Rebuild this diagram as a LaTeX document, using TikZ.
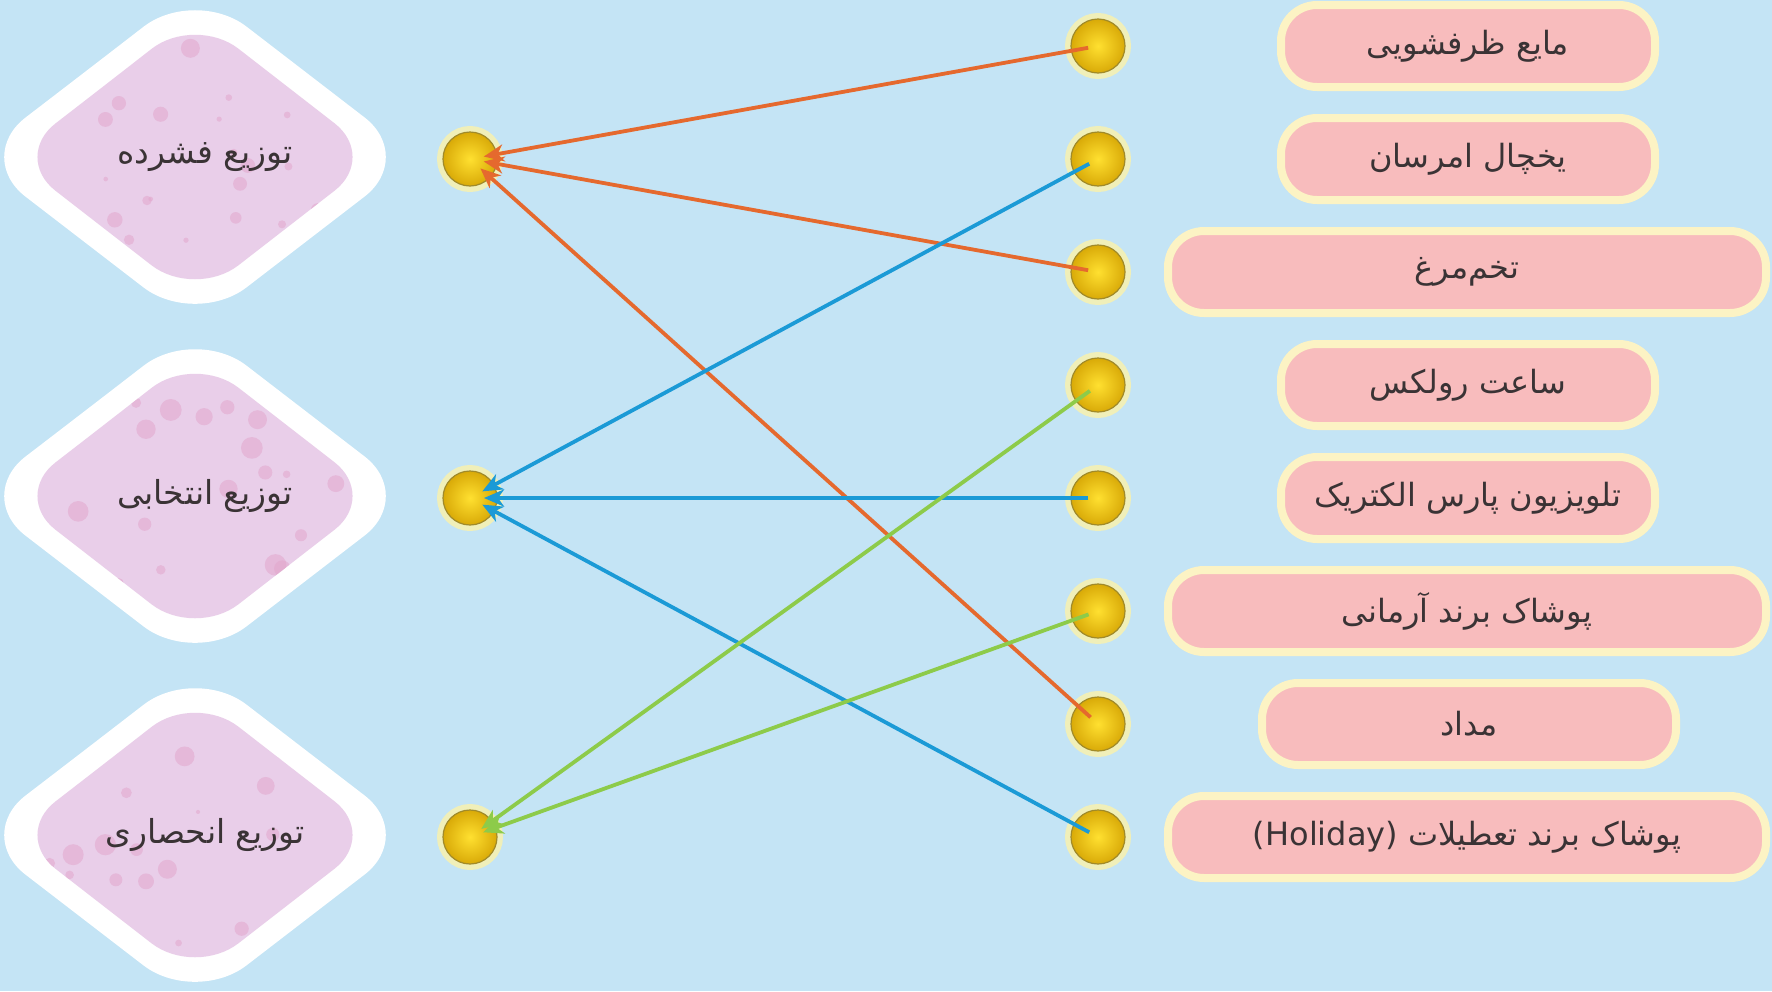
\documentclass[tikz,border=0pt]{standalone}
\usepackage{fontspec}
\newfontfamily\arabicfont[Script=Arabic]{DejaVu Sans}
\newfontfamily\latinfont{DejaVu Sans}
\TeXXeTstate=1
\usetikzlibrary{arrows.meta}
\definecolor{bg}{HTML}{C4E4F5}
\definecolor{cream}{HTML}{FCF3C4}
\definecolor{boxpink}{HTML}{F8BCBD}
\definecolor{spotpink}{HTML}{EC9AA6}
\definecolor{lav}{HTML}{E9CEE9}
\definecolor{lavspot}{HTML}{E2A6CC}
\definecolor{txt}{HTML}{3A3335}
\definecolor{orangeA}{HTML}{E5692E}
\definecolor{blueA}{HTML}{1B9AD6}
\definecolor{greenA}{HTML}{8DCB4A}
\definecolor{sunin}{HTML}{FFE030}
\definecolor{sunout}{HTML}{D9AA08}
\definecolor{sunrim}{HTML}{A08A2A}
\definecolor{glow}{HTML}{FFF3A6}
\tikzset{
  pbox/.style={rounded corners=36pt, fill=boxpink, draw=cream, line width=8pt,
    minimum height=82pt, inner sep=0pt, text=txt,
    font=\arabicfont\fontsize{32}{38}\selectfont},
  dtext/.style={text=txt, inner sep=0pt, font=\arabicfont\fontsize{33}{38}\selectfont},
  sun/.style={circle, minimum size=54pt, inner sep=0pt, inner color=sunin, outer color=sunout,
    draw=sunrim, line width=1.2pt,
    preaction={draw=glow, line width=12pt, draw opacity=0.75}},
  link/.style={line width=3.8pt, -{Stealth[length=20pt,width=17pt,inset=6pt]},
    shorten <=10pt, shorten >=14pt},
}
\pgfmathsetseed{11}
\newcommand\pinkbox[5]{%
  \node[pbox, minimum width=#4pt, path picture={
     \foreach \k in {1,...,26}{\fill[spotpink, opacity=.6] ({#2-#4/2+rnd*#4},{#3-40+rnd*80}) circle ({1.3+rnd*2});}
     \fill[spotpink, opacity=.75] ({#2-#4/2+42},{#3-14}) circle (10);
     \fill[spotpink, opacity=.75] ({#2+#4/2-42},{#3-12}) circle (9);
     \fill[spotpink, opacity=.6] ({#2+#4/2-75},{#3+20}) circle (6);
  }] (#1) at (#2,#3) {#5};}
\newcommand\dmd[4]{%
  \fill[white] ({#2-110},{#3-85}) [rounded corners=65pt] -- ({#2},{#3-170}) -- ({#2+221},{#3}) -- ({#2},{#3+170}) -- ({#2-221},{#3}) -- cycle;
  \begin{scope}
  \clip ({#2-91},{#3-71}) [rounded corners=55pt] -- ({#2},{#3-142}) -- ({#2+183},{#3}) -- ({#2},{#3+142}) -- ({#2-183},{#3}) -- cycle;
  \fill[lav] ({#2-200},{#3-150}) rectangle ({#2+200},{#3+150});
  \foreach \k in {1,...,22}{\fill[lavspot, opacity=.55] ({#2-150+rnd*300},{#3-110+rnd*220}) circle ({2+rnd*9});}
  \end{scope}
  \node[dtext] (#1) at ({#2+10},{#3}) {#4};}
\begin{document}
\begin{tikzpicture}[x=1pt,y=-1pt]
\useasboundingbox (0,0) rectangle (1772,991);
\fill[bg] (0,0) rectangle (1772,991);
% left diamonds
\dmd{d1}{195}{157}{\beginR توزیع فشرده\endR}
\dmd{d2}{195}{496}{\beginR توزیع انتخابی\endR}
\dmd{d3}{195}{835}{\beginR توزیع انحصاری\endR}
% right boxes
\pinkbox{b1}{1468}{46}{374}{\beginR مایع ظرفشویی\endR}
\pinkbox{b2}{1468}{159}{374}{\beginR یخچال امرسان\endR}
\pinkbox{b3}{1467}{272}{598}{\beginR تخم‌مرغ\endR}
\pinkbox{b4}{1468}{385}{374}{\beginR ساعت رولکس\endR}
\pinkbox{b5}{1468}{498}{374}{\beginR تلویزیون پارس الکتریک\endR}
\pinkbox{b6}{1467}{611}{598}{\beginR پوشاک برند آرمانی\endR}
\pinkbox{b7}{1469}{724}{414}{\beginR مداد\endR}
\pinkbox{b8}{1467}{837}{598}{\beginR پوشاک برند تعطیلات \beginL{\latinfont (Holiday)}\endL\endR}
% sun dots
\node[sun] (l1) at (470,159) {};
\node[sun] (l2) at (470,498) {};
\node[sun] (l3) at (470,837) {};
\foreach \i/\y in {1/46,2/159,3/272,4/385,5/498,6/611,7/724,8/837}
  \node[sun] (r\i) at (1098,\y) {};
% connectors
\draw[link, orangeA] (r1.center) -- (l1.center);
\draw[link, orangeA] (r3.center) -- (l1.center);
\draw[link, orangeA] (r7.center) -- (l1.center);
\draw[link, blueA] (r2.center) -- (l2.center);
\draw[link, blueA] (r5.center) -- (l2.center);
\draw[link, blueA] (r8.center) -- (l2.center);
\draw[link, greenA] (r4.center) -- (l3.center);
\draw[link, greenA] (r6.center) -- (l3.center);
\end{tikzpicture}
\end{document}
